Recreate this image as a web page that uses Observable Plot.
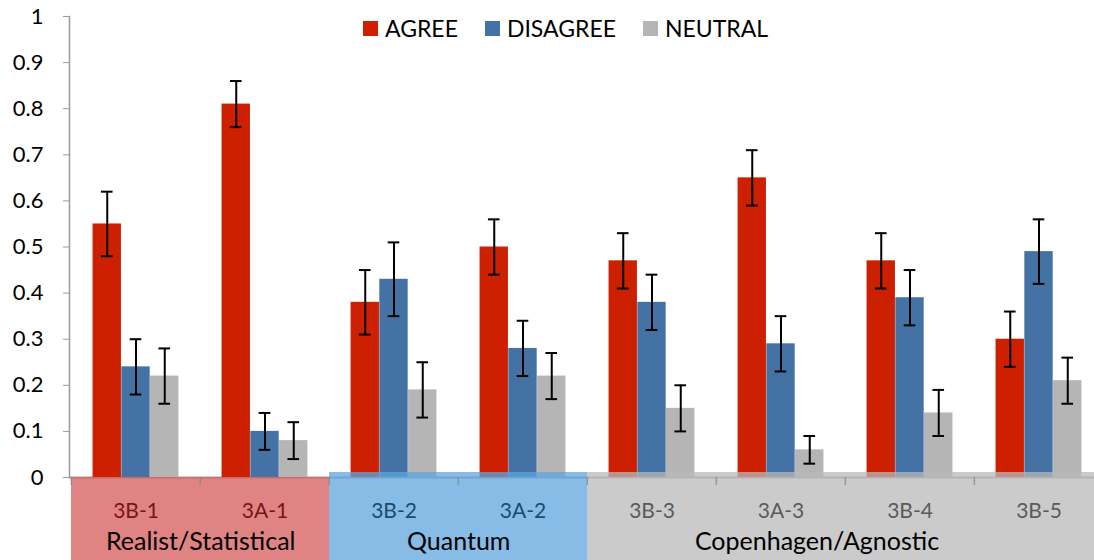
<!DOCTYPE html>
<html>
<head>
<meta charset="utf-8">
<script src="https://cdn.jsdelivr.net/npm/d3@7"></script>
<script src="https://cdn.jsdelivr.net/npm/@observablehq/plot@0.6"></script>
<style>
  html, body { margin: 0; padding: 0; background: #fff; overflow: hidden; }
  #wrap { position: relative; width: 1094px; height: 560px; font-family: Lato, sans-serif; }
  #legend { position: absolute; top: 16px; left: 363px; display: flex; gap: 27px; font-size: 23px; color: #000; line-height: 24px; }
  #legend .item { display: flex; align-items: center; }
  #legend .sw { width: 15px; height: 15px; margin-right: 7px; }
</style>
</head>
<body>
<div id="wrap"><div id="legend"></div></div>
<script>
// ---- data ----
const categories = ["3B-1", "3A-1", "3B-2", "3A-2", "3B-3", "3A-3", "3B-4", "3B-5"];
const groupOfCategory = ["Realist/Statistical", "Realist/Statistical", "Quantum", "Quantum",
  "Copenhagen/Agnostic", "Copenhagen/Agnostic", "Copenhagen/Agnostic", "Copenhagen/Agnostic"];
const groups = ["Realist/Statistical", "Quantum", "Copenhagen/Agnostic"];
const seriesNames = ["AGREE", "DISAGREE", "NEUTRAL"];

const agree      = [0.55, 0.81, 0.38, 0.50, 0.47, 0.65, 0.47, 0.30];
const agreeLow   = [0.48, 0.76, 0.31, 0.44, 0.41, 0.59, 0.41, 0.24];
const agreeHigh  = [0.62, 0.86, 0.45, 0.56, 0.53, 0.71, 0.53, 0.36];
const disagree     = [0.24, 0.10, 0.43, 0.28, 0.38, 0.29, 0.39, 0.49];
const disagreeLow  = [0.18, 0.06, 0.35, 0.22, 0.32, 0.23, 0.33, 0.42];
const disagreeHigh = [0.30, 0.14, 0.51, 0.34, 0.44, 0.35, 0.45, 0.56];
const neutral     = [0.22, 0.08, 0.19, 0.22, 0.15, 0.06, 0.14, 0.21];
const neutralLow  = [0.16, 0.04, 0.13, 0.17, 0.10, 0.03, 0.09, 0.16];
const neutralHigh = [0.28, 0.12, 0.25, 0.27, 0.20, 0.09, 0.19, 0.26];

const yTicks = [0, 0.1, 0.2, 0.3, 0.4, 0.5, 0.6, 0.7, 0.8, 0.9, 1];

// ---- styles ----
const seriesColors = ["#cc2000", "#4572a5", "#b5b5b5"];
const groupBandColors = {"Realist/Statistical": "#d55a5a", "Quantum": "#5ea5dc", "Copenhagen/Agnostic": "#b9b9b9"};
const groupLabelColors = {"Realist/Statistical": "#7a1414", "Quantum": "#1d4a70", "Copenhagen/Agnostic": "#5a5a5a"};
const groupBandTop = {"Realist/Statistical": 0, "Quantum": -5, "Copenhagen/Agnostic": -5};

const W = 1094, H = 560, mL = 69, mR = -10, mT = 16, mB = 83;
const step = (W - mR - mL) / categories.length;
const bw = step / 4.5;
const capHalf = 6;

const valuesBySeries = [agree, disagree, neutral];
const lowBySeries = [agreeLow, disagreeLow, neutralLow];
const highBySeries = [agreeHigh, disagreeHigh, neutralHigh];

const rows = [];
seriesNames.forEach((s, i) => categories.forEach((c, j) => rows.push({
  series: s, si: i, cat: c, value: valuesBySeries[i][j], low: lowBySeries[i][j], high: highBySeries[i][j]
})));
const catRows = categories.map((c, j) => ({cat: c, group: groupOfCategory[j]}));

const marks = [];
// baseline
marks.push(Plot.ruleY([0], {stroke: "#a8a8a8", strokeWidth: 2}));
// bars and error bars
seriesNames.forEach((s, i) => {
  const data = rows.filter(d => d.series === s);
  const left = 0.75 * bw + i * bw;
  marks.push(Plot.barY(data, {x: "cat", y: "value", fill: seriesColors[i],
    insetLeft: left, insetRight: step - left - bw}));
  const center = left + bw / 2;
  marks.push(Plot.ruleX(data, {x: "cat", y1: "low", y2: "high", dx: center - step / 2, stroke: "#000", strokeWidth: 2}));
  marks.push(Plot.tickY(data, {x: "cat", y: "low", insetLeft: center - capHalf, insetRight: step - center - capHalf, stroke: "#000", strokeWidth: 2}));
  marks.push(Plot.tickY(data, {x: "cat", y: "high", insetLeft: center - capHalf, insetRight: step - center - capHalf, stroke: "#000", strokeWidth: 2}));
});
// category band backgrounds (below the axis)
groups.forEach(g => {
  marks.push(Plot.barY(catRows.filter(d => d.group === g), {x: "cat", y1: 0, y2: 0,
    fill: groupBandColors[g], fillOpacity: 0.75, insetTop: groupBandTop[g], insetBottom: -mB}));
});
// category boundary ticks
marks.push(Plot.ruleX(catRows, {x: "cat", dx: -step / 2, y1: 0, y2: 0, insetBottom: -8, stroke: "#8a8a8a", strokeOpacity: 0.8, strokeWidth: 1.5}));
// category labels
marks.push(Plot.text(catRows, {x: "cat", frameAnchor: "bottom", dy: 40, text: "cat",
  fill: d => groupLabelColors[d.group], fontSize: 21, fontFamily: "Lato"}));
// group labels
const groupAnchor = [["Realist/Statistical", "3B-1", step / 2], ["Quantum", "3B-2", step / 2], ["Copenhagen/Agnostic", "3A-3", 36]];
groupAnchor.forEach(([g, c, dx]) => {
  marks.push(Plot.text([g], {x: () => c, frameAnchor: "bottom", dy: 72, dx, text: d => d,
    fill: "#000", fontSize: 25, fontFamily: "Lato"}));
});
// y axis
marks.push(Plot.axisY({ticks: yTicks, tickSize: 6, tickPadding: 20, stroke: "#9a9a9a",
  tickFormat: d => String(+d.toFixed(1)), fontSize: 22, fill: "#000", label: null}));
marks.push(Plot.frame({anchor: "left", stroke: "#9a9a9a", strokeWidth: 1.5}));

const chart = Plot.plot({
  width: W, height: H,
  marginLeft: mL, marginRight: mR, marginTop: mT, marginBottom: mB,
  style: {fontFamily: "Lato, sans-serif", background: "transparent", overflow: "hidden"},
  x: {domain: categories, padding: 0, axis: null},
  y: {domain: [0, 1], axis: null},
  marks
});
const wrap = document.getElementById("wrap");
wrap.insertBefore(chart, wrap.firstChild);

// legend
const legend = document.getElementById("legend");
seriesNames.forEach((s, i) => {
  const item = document.createElement("div");
  item.className = "item";
  const sw = document.createElement("span");
  sw.className = "sw";
  sw.style.background = seriesColors[i];
  const t = document.createElement("span");
  t.textContent = s;
  item.appendChild(sw); item.appendChild(t);
  legend.appendChild(item);
});
</script>
</body>
</html>
